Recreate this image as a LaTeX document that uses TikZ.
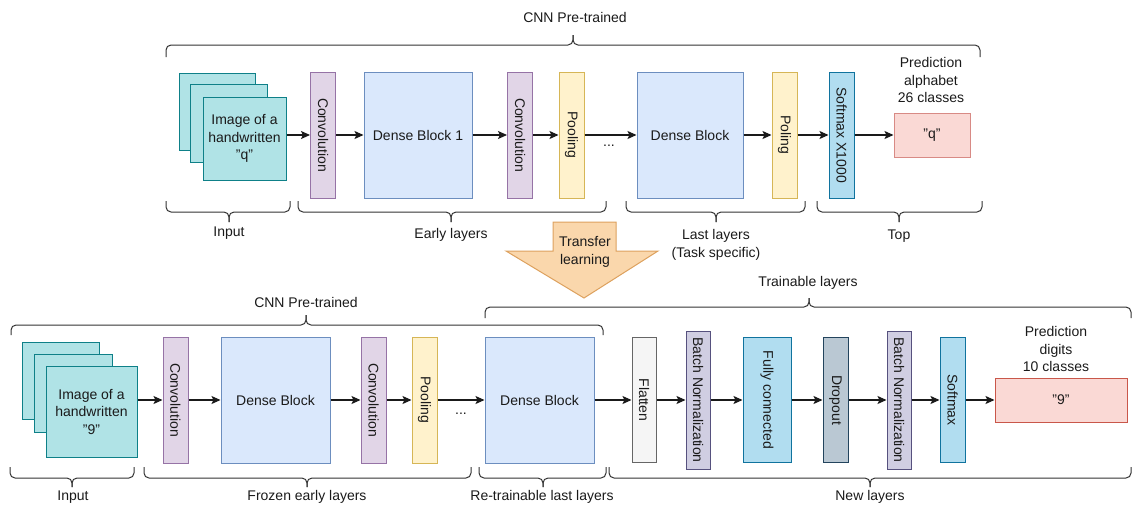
\documentclass[tikz,border=0pt]{standalone}
\usepackage{fontspec}
\setmainfont{Liberation Sans}
\usetikzlibrary{arrows.meta, positioning}
\definecolor{ctext}{HTML}{1A1A1A}
\definecolor{cbrace}{HTML}{333333}
\definecolor{cimgf}{HTML}{B0E3E6}
\definecolor{cimgd}{HTML}{0E8088}
\definecolor{cconvf}{HTML}{E1D5E7}
\definecolor{cconvd}{HTML}{9673A6}
\definecolor{cdensef}{HTML}{DAE8FC}
\definecolor{cdensed}{HTML}{6C8EBF}
\definecolor{cpoolf}{HTML}{FFF2CC}
\definecolor{cpoold}{HTML}{D6B656}
\definecolor{csoftf}{HTML}{B1DDF0}
\definecolor{csoftd}{HTML}{10739E}
\definecolor{coutf}{HTML}{FAD9D5}
\definecolor{coutd}{HTML}{D88A85}
\definecolor{coutdd}{HTML}{C9574A}
\definecolor{cflatf}{HTML}{F5F5F5}
\definecolor{cflatd}{HTML}{666666}
\definecolor{cnormf}{HTML}{D0CEE2}
\definecolor{cnormd}{HTML}{56517E}
\definecolor{cdropf}{HTML}{BAC8D3}
\definecolor{cdropd}{HTML}{23445D}
\definecolor{ctlf}{HTML}{FAD7AC}
\definecolor{ctld}{HTML}{DDA15E}
\newcommand{\figfont}{\fontsize{14}{17.5}\selectfont}
% curly brace: x left, x right, x tip, y of ends, y of line, y of tip
\newcommand{\pbrace}[6]{%
  \draw[bracel] (#1,#4) |- (#3,#5) -- (#3,#6);
  \draw[bracel] (#2,#4) |- (#3,#5) -- (#3,#6);}

\begin{document}
\begin{tikzpicture}[x=1pt, y=-1pt,
    every node/.style={font=\figfont, text=ctext},
    box/.style={draw, line width=1pt, inner sep=0pt, align=center},
    imgbox/.style={box, fill=cimgf, draw=cimgd},
    convbox/.style={box, fill=cconvf, draw=cconvd, minimum width=25pt, minimum height=126pt},
    densebox/.style={box, fill=cdensef, draw=cdensed, minimum width=108pt, minimum height=126pt},
    poolbox/.style={box, fill=cpoolf, draw=cpoold, minimum width=25pt, minimum height=126pt},
    softbox/.style={box, fill=csoftf, draw=csoftd, minimum width=25pt, minimum height=126pt},
    outbox/.style={box, fill=coutf, draw=coutd, minimum height=44pt},
    flatbox/.style={box, fill=cflatf, draw=cflatd, minimum width=24pt, minimum height=125pt},
    normbox/.style={box, fill=cnormf, draw=cnormd, minimum width=24pt, minimum height=138pt},
    dropbox/.style={box, fill=cdropf, draw=cdropd, minimum width=25pt, minimum height=125pt},
    lbl/.style={inner sep=0pt, align=center},
    arr/.style={-{Stealth[length=9pt, width=8pt, inset=2pt]}, line width=1.1pt, draw=ctext},
    bracel/.style={line width=1pt, draw=cbrace, rounded corners=5pt}]
  \useasboundingbox (0,0) rectangle (1132,507);

  % ---- source model (alphabet) ----
  \node (qimgc) [imgbox, minimum width=76pt, minimum height=77pt] at (217,111.5) {};
  \node (qimgb) [imgbox, minimum width=77pt, minimum height=78pt] at (228.5,123) {};
  \node (qimg) [imgbox, minimum width=83pt, minimum height=83pt] at (244.5,138.5) {Image of a\\handwritten\\"q"};
  \node (conv1) [convbox] at (323,135) {\rotatebox{-90}{Convolution}};
  \node (dense1) [densebox] at (418,135) {Dense Block 1};
  \node (conv2) [convbox] at (520,135) {\rotatebox{-90}{Convolution}};
  \node (pool1) [poolbox] at (571.5,135) {\rotatebox{-90}{Pooling}};
  \node (dots1) [lbl] at (609,146) {...};
  \node (dense2) [densebox, minimum width=106pt] at (690,135) {Dense Block};
  \node (pool2) [poolbox] at (784.5,135) {\rotatebox{-90}{Poling}};
  \node (soft1) [softbox] at (841.5,135) {\rotatebox{-90}{Softmax X1000}};
  \node (outq) [outbox, minimum width=76pt] at (932,135) {"q"};
  \node (predq) [lbl] at (931,80) {Prediction\\alphabet\\26 classes};

  \draw[arr] (qimg.east |- conv1) -- (conv1);
  \foreach \a/\b in {conv1/dense1, dense1/conv2, conv2/pool1, pool1/dense2, dense2/pool2, pool2/soft1, soft1/outq}
    \draw[arr] (\a) -- (\b);

  \pbrace{166}{980}{573}{57}{45}{35}
  \node (cnntop) [lbl] at (575,17) {CNN Pre-trained};
  \pbrace{166}{290}{229}{201}{212}{222}
  \node (intop) [lbl] at (229,233) {Input};
  \pbrace{298}{606}{451}{201}{212}{222}
  \node (earlytop) [lbl] at (451,235) {Early layers};
  \pbrace{626}{805}{716}{201}{212}{222}
  \node (lasttop) [lbl] at (716,245) {Last layers\\(Task specific)};
  \pbrace{817}{982}{899}{201}{212}{222}
  \node (toptop) [lbl] at (899,236) {Top};

  % ---- transfer ----
  \draw[line width=1pt, draw=ctld, fill=ctlf] (553,222) -- (616,222) -- (616,251) -- (658,251)
    -- (584,298) -- (506,251) -- (553,251) -- cycle;
  \node (transfer) [lbl] at (585,252) {Transfer\\learning};

  % ---- target model (digits) ----
  \node (nimgc) [imgbox, minimum width=77pt, minimum height=77pt] at (60.5,380.5) {};
  \node (nimgb) [imgbox, minimum width=78pt, minimum height=78pt] at (73,393) {};
  \node (nimg) [imgbox, minimum width=91pt, minimum height=91pt] at (91.5,411.5) {Image of a\\handwritten\\"9"};
  \node (conv3) [convbox] at (175.5,400) {\rotatebox{-90}{Convolution}};
  \node (dense3) [densebox, minimum width=109pt] at (275.5,400) {Dense Block};
  \node (conv4) [convbox] at (373.5,400) {\rotatebox{-90}{Convolution}};
  \node (pool3) [poolbox] at (424.5,400) {\rotatebox{-90}{Pooling}};
  \node (dots2) [lbl] at (461,414) {...};
  \node (dense4) [densebox, minimum width=109pt] at (539.5,400) {Dense Block};
  \node (flat) [flatbox] at (644,400) {\rotatebox{-90}{Flatten}};
  \node (norm1) [normbox] at (698,400) {\rotatebox{-90}{Batch Normalization}};
  \node (fc) [softbox, minimum width=48pt, minimum height=125pt] at (767,400) {\rotatebox{-90}{Fully connected}};
  \node (drop) [dropbox] at (835.5,400) {\rotatebox{-90}{Dropout}};
  \node (norm2) [normbox] at (899,400) {\rotatebox{-90}{Batch Normalization}};
  \node (soft2) [softbox, minimum height=125pt] at (952.5,400) {\rotatebox{-90}{Softmax}};
  \node (out9) [outbox, draw=coutdd, minimum width=132pt] at (1061,400) {"9"};
  \node (pred9) [lbl] at (1056,349) {Prediction\\digits\\10 classes};

  \draw[arr] (nimg.east |- conv3) -- (conv3);
  \foreach \a/\b in {conv3/dense3, dense3/conv4, conv4/pool3, pool3/dense4, dense4/flat, flat/norm1,
                     norm1/fc, fc/drop, drop/norm2, norm2/soft2, soft2/out9}
    \draw[arr] (\a) -- (\b);

  \pbrace{11}{603}{306}{335}{325}{315}
  \node (cnnbot) [lbl] at (306,302) {CNN Pre-trained};
  \pbrace{485}{1131}{809}{318}{307}{298}
  \node (trainbot) [lbl] at (808,283) {Trainable layers};
  \pbrace{10}{134}{72}{467}{478}{487}
  \node (inbot) [lbl] at (73,497) {Input};
  \pbrace{144}{471}{307}{467}{478}{487}
  \node (frozen) [lbl] at (307,497) {Frozen early layers};
  \pbrace{479}{606}{543}{467}{478}{487}
  \node (retrain) [lbl] at (542,497) {Re-trainable last layers};
  \pbrace{609}{1131}{870}{467}{478}{487}
  \node (newl) [lbl] at (870,497) {New layers};
\end{tikzpicture}
\end{document}
